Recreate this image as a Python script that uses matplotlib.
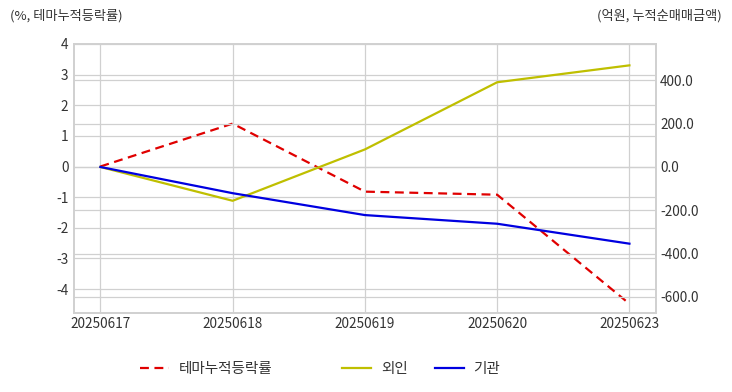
import numpy as np
import matplotlib.pyplot as plt
from matplotlib.lines import Line2D

plt.rcParams['font.family'] = ['Noto Sans CJK KR', 'DejaVu Sans']
plt.rcParams['axes.unicode_minus'] = False

# ================= 데이터 =================
dates = ['20250617', '20250618', '20250619', '20250620', '20250623']
theme_rate = [0.0, 1.40, -0.82, -0.92, -4.48]      # 테마누적등락률 (%)
foreign = [0.0, -156.0, 81.0, 391.0, 469.0]         # 외인 (억원)
institution = [0.0, -121.0, -222.0, -262.0, -354.0]  # 기관 (억원)

GRID_C = '#d0d0d0'
TXT_C = '#333333'

fig = plt.figure(figsize=(7.32, 3.92), dpi=100)
ax = fig.add_axes([0.101, 0.2015, 0.795, 0.6865])
ax2 = ax.twinx()

x = np.arange(len(dates))

ax.plot(x, theme_rate, color='#e00000', lw=1.6, dashes=(4, 2.5), zorder=3)
ax2.plot(x, foreign, color='#bfbf00', lw=1.6)
ax2.plot(x, institution, color='#0000e0', lw=1.6)

ax.set_xlim(-0.2, 4.2)
ax.set_ylim(-4.78, 4.0)
ax2.set_ylim(-674, 568)

ax.set_xticks(x)
ax.set_xticklabels(dates)
ax.set_yticks(range(-4, 5))
ax2.set_yticks([-600, -400, -200, 0, 200, 400])
ax2.set_yticklabels([f'{v:.1f}' for v in [-600, -400, -200, 0, 200, 400]])

for a in (ax, ax2):
    a.tick_params(length=0, labelsize=9.8, colors=TXT_C)
    for s in a.spines.values():
        s.set_color(GRID_C)
        s.set_linewidth(1.2)

ax.tick_params(axis='y', pad=4)
ax2.tick_params(axis='y', pad=3)
ax.tick_params(axis='x', pad=3)

ax.grid(True, color=GRID_C, lw=0.9)
ax2.grid(True, axis='y', color=GRID_C, lw=0.9)
ax.set_axisbelow(True)
ax2.set_axisbelow(True)

fig.text(10 / 732, 1 - 16 / 392, '(%, 테마누적등락률)', fontsize=9.5, color=TXT_C, va='center', ha='left')
fig.text(722 / 732, 1 - 16 / 392, '(억원, 누적순매매금액)', fontsize=9.5, color=TXT_C, va='center', ha='right')

h1 = [Line2D([], [], color='#e00000', lw=1.6, dashes=(4, 2.5))]
fig.legend(h1, ['테마누적등락률'], loc='center left', bbox_to_anchor=(127 / 732, 1 - 369 / 392),
           frameon=False, fontsize=10.5, handlelength=2.0, handletextpad=0.65, labelcolor=TXT_C)
h2 = [Line2D([], [], color='#bfbf00', lw=1.6), Line2D([], [], color='#0000e0', lw=1.6)]
fig.legend(h2, ['외인', '기관'], loc='center left', bbox_to_anchor=(329 / 732, 1 - 369 / 392),
           frameon=False, fontsize=10.5, ncol=2, handlelength=2.0, handletextpad=0.65,
           columnspacing=1.85, labelcolor=TXT_C)

fig.savefig('out.png', dpi=100)
